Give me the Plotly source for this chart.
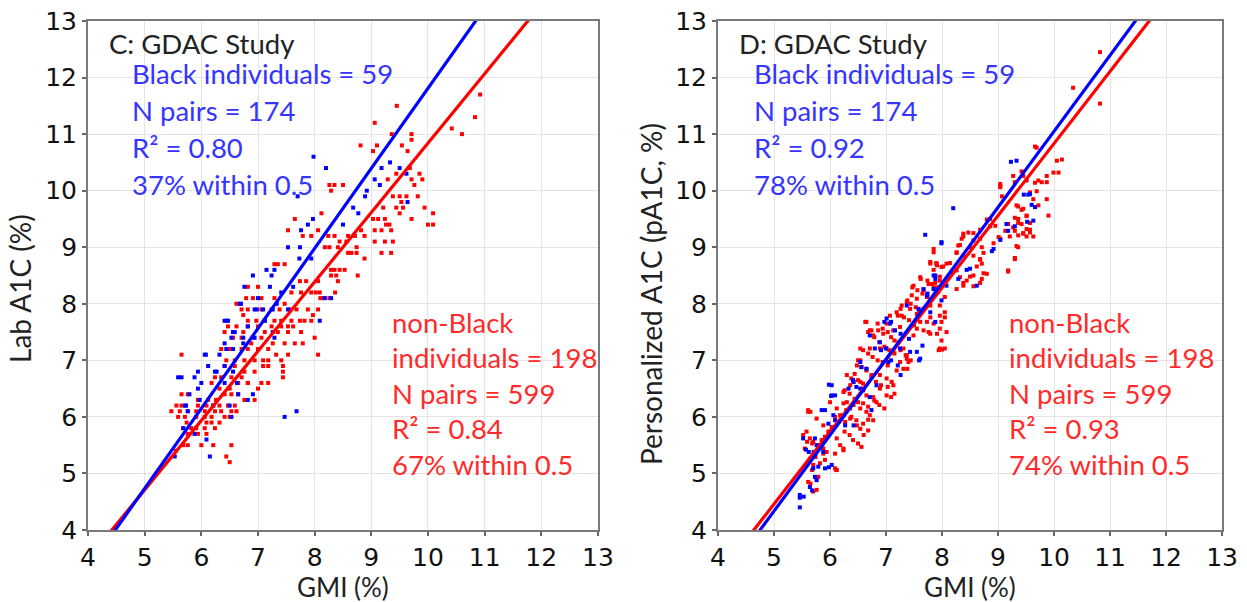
import plotly.graph_objects as go

# ---- Panel C: GMI (%) vs laboratory A1C (%) -------------------------------
c_black = [
    (7.98, 10.6), (8.2, 10.4), (7.7, 9.9), (9.33, 10.5), (9.18, 10.4), (9.5, 10.4),
    (9.62, 10.3), (9.06, 10.2), (9.15, 10.1), (8.92, 10.0), (8.89, 9.9), (9.64, 9.8),
    (8.68, 9.7), (8.77, 9.6), (8.5, 9.4), (7.97, 9.5), (7.88, 9.4), (7.76, 9.3),
    (7.74, 9.0), (7.53, 9.0), (7.94, 8.8), (7.73, 8.8), (7.29, 8.6), (7.15, 8.6),
    (7.24, 8.5), (6.91, 8.5), (6.76, 8.3), (7.21, 8.3), (7.41, 8.2), (7.62, 8.3),
    (8.18, 8.1), (8.29, 8.1), (6.68, 8.0), (7.0, 8.1), (6.94, 7.9), (7.09, 7.9),
    (7.26, 7.9), (7.53, 7.9), (8.09, 7.7), (6.41, 7.7), (6.47, 7.7), (6.82, 7.6),
    (6.59, 7.5), (6.53, 7.4), (6.41, 7.3), (6.74, 7.3), (6.94, 7.4), (7.29, 7.4),
    (6.06, 7.1), (6.32, 7.1), (6.44, 7.2), (6.56, 7.2), (6.12, 6.9), (6.41, 6.9),
    (5.59, 6.7), (5.65, 6.7), (5.94, 6.8), (5.88, 6.7), (6.24, 6.8), (6.56, 6.8),
    (6.0, 6.6), (6.41, 6.6), (6.65, 6.4), (6.82, 6.3), (5.79, 6.4), (5.97, 6.3),
    (5.71, 6.2), (6.21, 6.2), (6.5, 6.2), (5.76, 6.1), (7.47, 6.0), (7.68, 6.1),
    (6.53, 6.0), (5.88, 5.7), (6.09, 5.6), (6.15, 5.3), (5.68, 5.8), (5.53, 5.3),
    (6.7, 8.0), (6.98, 7.9), (7.33, 8.0), (6.45, 7.7), (6.56, 7.5), (6.74, 7.4),
    (7.12, 7.7), (7.26, 7.5), (6.08, 7.1), (6.27, 6.8), (6.63, 6.6), (6.91, 6.4),
    (5.94, 6.5), (5.73, 6.2),
]

c_nonblack = [
    (10.92, 11.7), (10.83, 11.3), (10.42, 11.1), (10.6, 11.0), (9.45, 11.5), (9.06, 11.2),
    (8.81, 10.8), (9.1, 10.8), (9.03, 10.7), (9.36, 11.0), (9.71, 11.0), (9.71, 10.9),
    (9.54, 10.8), (9.64, 10.7), (9.68, 10.4), (9.9, 10.2),
    (8.26, 10.1), (8.35, 10.1), (8.5, 10.1), (8.29, 10.0), (9.29, 10.2), (9.44, 10.3),
    (9.71, 10.2), (9.76, 10.1), (9.85, 10.3), (9.38, 9.9), (9.5, 9.9), (9.53, 9.8),
    (9.62, 9.9), (9.82, 9.9), (9.21, 9.7), (9.44, 9.7), (9.5, 9.6), (9.56, 9.7),
    (9.94, 9.7), (10.09, 9.6), (9.71, 9.5), (10.0, 9.4), (10.09, 9.4), (9.03, 9.5),
    (9.12, 9.5), (9.24, 9.5), (9.26, 9.4), (9.32, 9.4), (9.06, 9.3), (9.18, 9.3),
    (9.35, 9.3), (9.06, 9.1), (9.24, 9.1), (9.38, 9.1), (9.18, 8.9), (9.35, 8.9),
    (8.12, 9.6), (7.65, 9.5), (7.53, 9.3), (7.79, 9.2), (7.94, 9.2), (8.06, 9.3),
    (8.24, 9.2), (8.35, 9.2), (8.59, 9.2), (8.71, 9.2), (8.82, 9.3), (8.88, 9.2),
    (8.44, 9.1), (8.56, 9.1), (8.74, 9.0), (8.18, 9.0), (8.26, 9.0), (8.41, 9.0),
    (8.59, 8.9), (8.65, 8.9), (8.74, 8.9), (8.88, 8.8), (7.29, 8.7), (7.35, 8.7),
    (7.47, 8.7), (8.29, 8.6), (8.35, 8.6), (8.44, 8.6), (8.53, 8.6), (8.29, 8.5),
    (8.38, 8.5), (8.41, 8.4), (8.76, 8.5), (6.82, 8.3), (7.0, 8.3), (7.74, 8.4),
    (7.85, 8.4), (8.06, 8.4), (7.59, 8.2), (7.76, 8.2), (7.94, 8.2), (8.09, 8.2),
    (8.15, 8.1), (8.26, 8.1), (6.79, 8.1), (6.91, 8.1), (7.06, 8.1), (7.29, 8.1),
    (7.47, 8.0), (6.62, 8.0), (6.71, 7.9), (6.82, 7.9), (7.06, 7.9), (7.24, 7.9),
    (7.38, 7.9), (7.56, 7.9), (7.68, 7.9), (7.88, 7.9), (7.97, 7.8), (8.06, 7.9),
    (6.74, 7.8), (6.82, 7.7), (6.97, 7.7), (7.12, 7.7), (7.29, 7.7), (7.41, 7.7),
    (7.59, 7.7), (7.74, 7.7), (7.82, 7.7), (7.94, 7.7), (6.47, 7.6), (6.62, 7.6),
    (6.82, 7.6), (7.0, 7.6), (7.24, 7.6), (7.41, 7.6), (7.53, 7.6), (7.62, 7.6),
    (6.41, 7.5), (6.56, 7.5), (6.74, 7.5), (6.91, 7.4), (7.12, 7.5), (7.35, 7.5),
    (7.53, 7.5), (7.76, 7.5), (8.0, 7.4), (6.56, 7.4), (6.71, 7.4), (6.88, 7.3),
    (7.06, 7.4), (7.26, 7.3), (7.47, 7.3), (7.65, 7.3), (7.79, 7.3), (5.65, 7.1),
    (6.35, 7.2), (6.5, 7.2), (6.71, 7.2), (6.82, 7.2), (7.0, 7.2), (7.18, 7.2),
    (7.32, 7.1), (7.53, 7.1), (8.06, 7.1), (6.44, 7.0), (6.59, 7.0), (6.76, 7.0),
    (6.94, 7.0), (7.09, 7.0), (7.18, 7.0), (7.41, 7.0), (7.44, 6.9), (7.44, 6.7),
    (6.41, 6.9), (6.59, 6.9), (6.76, 6.8), (6.94, 6.8), (7.09, 6.9), (7.18, 6.9),
    (7.44, 6.8), (6.24, 6.7), (6.35, 6.7), (6.53, 6.7), (6.71, 6.7), (6.82, 6.6),
    (7.06, 6.6), (7.18, 6.6), (6.18, 6.6), (6.32, 6.5), (6.5, 6.5), (6.65, 6.6),
    (6.82, 6.6), (7.0, 6.5), (5.65, 6.4), (5.76, 6.4), (5.94, 6.3), (6.12, 6.3),
    (6.26, 6.3), (6.41, 6.4), (6.53, 6.4), (6.65, 6.4), (6.76, 6.3), (6.94, 6.3),
    (5.56, 6.2), (5.65, 6.2), (5.94, 6.2), (6.09, 6.2), (6.21, 6.2), (6.32, 6.2),
    (6.47, 6.2), (6.59, 6.2), (5.47, 6.1), (5.62, 6.1), (5.76, 6.1), (5.91, 6.1),
    (6.06, 6.1), (6.24, 6.1), (6.35, 6.1), (6.53, 6.1), (6.62, 6.1), (5.59, 6.0),
    (5.71, 6.0), (5.91, 6.0), (6.06, 6.0), (6.18, 6.0), (6.41, 6.0), (6.5, 6.0),
    (5.74, 5.9), (5.91, 5.8), (6.09, 5.9), (6.18, 5.9), (6.32, 5.9), (5.68, 5.8),
    (5.82, 5.8), (6.06, 5.8), (6.24, 5.8), (5.76, 5.7), (5.94, 5.7), (6.09, 5.7),
    (5.76, 5.5), (6.0, 5.5), (6.21, 5.5), (6.53, 5.5), (6.44, 5.3), (6.5, 5.2),
    (5.68, 5.5), (5.55, 5.4), (8.02, 8.2), (8.1, 8.1), (8.36, 8.2),
]

# ---- Panel D: GMI (%) vs personalized A1C (%) -----------------------------
d_black = [
    (9.33, 10.53), (8.2, 9.69), (7.7, 9.22), (7.99, 9.09), (9.57, 9.94), (9.66, 9.71),
    (9.63, 9.47), (9.18, 9.29), (9.15, 9.41), (8.92, 8.97), (8.62, 8.32), (8.5, 8.62),
    (8.29, 8.44), (7.85, 8.5), (7.88, 8.44), (8.08, 8.32), (7.67, 8.26), (7.73, 8.15),
    (7.99, 8.06), (7.58, 7.91), (7.79, 7.85), (7.88, 7.68), (7.37, 7.97), (7.01, 7.74),
    (7.07, 7.65), (7.16, 7.53), (7.25, 7.21), (7.43, 7.15), (7.55, 7.15), (7.61, 7.03),
    (6.71, 7.44), (6.89, 7.32), (6.8, 7.21), (7.04, 6.97), (6.54, 6.97), (6.65, 6.85),
    (6.42, 6.62), (6.33, 6.5), (6.54, 6.5), (6.83, 6.56), (6.03, 6.56), (6.03, 6.38),
    (5.85, 6.12), (6.06, 6.03), (6.27, 5.85), (6.42, 5.85), (5.73, 5.62), (5.52, 5.62),
    (5.76, 5.5), (5.88, 5.38), (6.03, 5.15), (5.7, 5.09), (5.73, 4.94), (5.46, 4.62),
    (5.46, 4.57), (5.46, 4.4), (5.64, 4.76), (5.68, 4.7), (5.98, 6.57), (6.02, 6.37),
    (5.57, 5.42), (5.71, 5.36), (5.98, 5.11), (9.52, 9.45), (9.46, 9.93), (9.23, 10.51),
    (6.09, 6.38), (5.91, 6.12), (6.09, 5.94), (5.97, 5.88), (6.56, 6.88), (6.41, 6.65),
    (6.47, 6.53), (6.59, 6.47), (6.71, 6.35), (6.91, 7.18), (7.0, 7.21), (7.09, 7.0),
    (7.21, 6.91), (7.26, 6.74), (6.97, 7.68), (7.09, 7.68), (7.26, 7.47), (7.41, 7.38),
    (7.59, 7.0), (7.65, 7.26), (7.74, 8.18), (7.85, 8.26), (7.88, 8.5), (5.62, 5.38),
    (5.71, 5.38), (5.79, 5.12), (5.76, 4.88), (5.53, 4.59), (5.91, 5.09), (6.74, 6.12),
    (9.54, 9.93), (9.6, 9.75), (9.3, 9.37), (9.04, 9.13), (8.89, 8.93), (7.99, 9.07),
    (8.44, 8.6),
]

d_nonblack = [
    (10.82, 12.45), (10.34, 11.82), (10.82, 11.54), (9.66, 10.78), (10.05, 10.53),
    (10.14, 10.55), (9.99, 10.32), (10.08, 10.32), (9.87, 10.26), (9.72, 10.18),
    (9.78, 10.15), (9.87, 10.15), (9.27, 10.26), (9.3, 10.15), (9.45, 10.26),
    (9.51, 10.18), (9.04, 10.12), (9.04, 10.06), (9.57, 9.97), (9.63, 9.85),
    (9.72, 9.74), (9.87, 9.85), (9.9, 9.56), (9.33, 9.74), (9.45, 9.68), (9.51, 9.56),
    (9.36, 9.5), (9.42, 9.41), (9.51, 9.32), (9.57, 9.26), (9.45, 9.24), (9.18, 9.41),
    (9.27, 9.35), (9.13, 9.29), (9.3, 9.29), (9.36, 9.21), (8.86, 9.5), (8.95, 9.38),
    (9.01, 9.18), (9.04, 9.15), (9.36, 9.0), (9.3, 8.79), (9.18, 8.59), (8.56, 9.12),
    (8.5, 9.0), (8.35, 9.15), (8.29, 9.03), (8.38, 9.24), (8.47, 9.26), (8.68, 9.15),
    (8.71, 9.0), (8.26, 8.91), (8.38, 8.85), (8.56, 8.85), (8.68, 8.79), (8.71, 8.71),
    (8.8, 8.53), (8.71, 8.44), (8.56, 8.5), (8.44, 8.41), (7.85, 8.97), (7.9, 8.71),
    (7.79, 8.74), (7.99, 8.65), (8.08, 8.71), (8.17, 8.56), (8.26, 8.59), (8.32, 8.47),
    (8.38, 8.32), (8.26, 8.26), (7.61, 8.47), (7.49, 8.32), (7.46, 8.15), (7.55, 8.09),
    (7.67, 8.24), (7.76, 8.35), (7.85, 8.29), (7.96, 8.41), (7.93, 8.21), (8.05, 8.12),
    (7.73, 8.12), (7.79, 7.97), (7.67, 7.91), (7.96, 7.97), (8.05, 7.85), (7.28, 7.97),
    (7.37, 8.03), (7.19, 7.85), (7.28, 7.79), (7.43, 7.91), (7.55, 7.82), (7.61, 7.68),
    (7.96, 7.79), (8.05, 7.76), (7.99, 7.68), (7.96, 7.56), (8.08, 7.5), (7.99, 7.35),
    (8.05, 7.21), (7.96, 7.21), (7.73, 7.68), (7.79, 7.47), (7.55, 7.56), (7.49, 7.44),
    (7.67, 7.53), (6.63, 7.68), (6.71, 7.53), (6.77, 7.44), (6.86, 7.53), (6.95, 7.47),
    (7.07, 7.79), (7.01, 7.65), (7.13, 7.53), (7.25, 7.59), (7.22, 7.32), (7.31, 7.21),
    (7.37, 7.09), (7.4, 6.97), (6.54, 7.21), (6.71, 7.21), (6.89, 7.21), (7.01, 7.21),
    (7.13, 7.15), (7.25, 6.97), (7.37, 7.03), (7.19, 6.82), (7.31, 6.85), (6.54, 7.0),
    (6.48, 6.91), (6.65, 6.85), (6.74, 6.74), (6.89, 6.74), (7.01, 6.68), (7.1, 6.62),
    (7.13, 6.56), (6.89, 6.5), (7.01, 6.38), (6.3, 6.74), (6.36, 6.56), (6.42, 6.62),
    (6.54, 6.62), (6.6, 6.5), (6.65, 6.38), (6.77, 6.35), (6.83, 6.26), (6.24, 6.44),
    (6.3, 6.26), (6.36, 6.15), (6.42, 6.21), (6.54, 6.15), (6.65, 6.09), (6.71, 6.03),
    (6.77, 5.94), (6.0, 6.26), (6.12, 6.15), (6.18, 6.03), (6.27, 5.91), (6.36, 5.97),
    (6.48, 5.85), (6.54, 5.79), (6.6, 5.68), (5.61, 6.12), (5.76, 5.97), (5.88, 5.85),
    (6.0, 5.74), (6.12, 5.62), (6.18, 5.5), (6.24, 5.44), (5.58, 5.74), (5.64, 5.62),
    (5.7, 5.56), (5.79, 5.5), (5.88, 5.44), (5.94, 5.38), (6.09, 5.09), (5.52, 5.68),
    (5.55, 5.44), (5.64, 5.26), (5.7, 5.15), (5.76, 4.91), (5.61, 4.85), (5.7, 4.68),
    (5.61, 6.09), (6.11, 5.06), (8.0, 7.19), (6.68, 5.95),
    (7.85, 8.91), (7.79, 8.71), (7.91, 8.68), (7.62, 8.44), (7.74, 8.41), (7.82, 8.35),
    (7.91, 8.29), (7.47, 8.29), (7.56, 8.24), (7.65, 8.18), (7.74, 8.12), (7.38, 8.06),
    (7.44, 8.0), (7.53, 7.94), (7.59, 7.88), (7.68, 7.91), (7.26, 7.91), (7.21, 7.79),
    (7.32, 7.76), (7.41, 7.71), (7.5, 7.62), (7.79, 7.76), (7.85, 7.65), (7.76, 7.5),
    (7.91, 7.47), (7.94, 7.18), (6.65, 7.68), (6.74, 7.53), (6.68, 7.5), (6.85, 7.65),
    (6.94, 7.56), (7.03, 7.5), (7.09, 7.41), (7.15, 7.35), (6.79, 7.41), (6.88, 7.32),
    (6.97, 7.24), (7.06, 7.18), (7.15, 7.12), (6.59, 7.18), (6.68, 7.12), (6.76, 7.06),
    (6.85, 7.0), (6.94, 6.97), (7.03, 6.91), (7.26, 7.18), (7.35, 7.09), (7.44, 7.0),
    (7.38, 6.85), (6.5, 7.0), (6.56, 6.88), (6.65, 6.82), (6.44, 6.76), (6.38, 6.68),
    (6.5, 6.65), (6.59, 6.59), (6.74, 6.71), (6.82, 6.62), (6.91, 6.56), (7.03, 6.53),
    (7.09, 6.35), (7.15, 6.41), (6.26, 6.47), (6.35, 6.41), (6.44, 6.32), (6.5, 6.26),
    (6.59, 6.24), (6.68, 6.18), (6.24, 6.24), (6.29, 6.12), (6.38, 6.0), (6.47, 5.94),
    (6.59, 5.88), (6.68, 5.76), (6.79, 6.29), (6.88, 6.21), (6.97, 6.15), (6.09, 6.0),
    (6.15, 5.91), (6.03, 5.82), (5.97, 5.74), (5.91, 5.65), (5.85, 5.59), (6.26, 5.74),
    (6.35, 5.68), (6.41, 5.59), (6.5, 5.53), (6.56, 5.47), (6.24, 5.41), (6.09, 5.35),
    (5.65, 6.09), (5.59, 5.56), (5.68, 5.53), (5.79, 5.47), (5.88, 5.35), (5.74, 5.29),
    (5.82, 5.18), (5.91, 5.24), (5.68, 5.06), (5.79, 4.94), (5.65, 4.82), (5.76, 4.71),
    (6.12, 5.06), (9.69, 10.76), (9.66, 10.14), (9.69, 9.99), (9.42, 10.34), (9.04, 10.08),
    (9.07, 9.9), (9.36, 9.72), (9.42, 9.66), (9.51, 9.55), (9.57, 9.43), (9.3, 9.52),
    (9.36, 9.43), (9.45, 9.25), (9.51, 9.19), (9.57, 9.31), (9.63, 9.19), (9.21, 9.19),
    (9.33, 9.02), (9.3, 8.81), (9.18, 8.57), (8.8, 9.49), (8.86, 9.37), (8.68, 9.31),
    (8.56, 9.25), (8.38, 9.19), (8.32, 9.04), (8.26, 8.9), (8.14, 8.72), (8.02, 8.66),
    (8.92, 9.07), (8.74, 8.9), (8.68, 8.78), (8.62, 8.66), (8.5, 8.48), (8.38, 8.37),
    (8.74, 8.54), (8.68, 8.37), (8.56, 8.31), (7.9, 8.72), (7.85, 8.6), (7.96, 8.48),
    (7.88, 8.37),
]

# least-squares fit lines: (intercept, slope) of A1C on GMI
c_fit_black = (-2.34, 1.415)
c_fit_nonblack = (-1.42, 1.226)
d_fit_black = (-2.38, 1.343)
d_fit_nonblack = (-1.916, 1.275)
gmi_span = [4.0, 13.0]

axis_ticks = [4, 5, 6, 7, 8, 9, 10, 11, 12, 13]

c_title = "C: GDAC Study"
d_title = "D: GDAC Study"
c_black_stats = ["Black individuals = 59", "N pairs = 174", "R² = 0.80", "37% within 0.5"]
c_nonblack_stats = ["non-Black", "individuals = 198", "N pairs = 599", "R² = 0.84", "67% within 0.5"]
d_black_stats = ["Black individuals = 59", "N pairs = 174", "R² = 0.92", "78% within 0.5"]
d_nonblack_stats = ["non-Black", "individuals = 198", "N pairs = 599", "R² = 0.93", "74% within 0.5"]

RED = "#ff0000"
BLUE = "#0000ff"
RED_TXT = "#ff2b2b"
BLUE_TXT = "#3535ff"
TEXT_FONT = "Lato"

fig = go.Figure()


def add_panel(black, nonblack, fit_black, fit_nonblack, xa, ya):
    fig.add_trace(go.Scatter(
        x=[p[0] for p in nonblack], y=[p[1] for p in nonblack], mode="markers",
        marker=dict(symbol="square", size=4, color=RED, line=dict(width=0)),
        xaxis=xa, yaxis=ya, showlegend=False, hoverinfo="skip"))
    fig.add_trace(go.Scatter(
        x=[p[0] for p in black], y=[p[1] for p in black], mode="markers",
        marker=dict(symbol="square", size=4, color=BLUE, line=dict(width=0)),
        xaxis=xa, yaxis=ya, showlegend=False, hoverinfo="skip"))
    for (a, b), col in ((fit_nonblack, RED), (fit_black, BLUE)):
        fig.add_trace(go.Scatter(
            x=gmi_span, y=[a + b * g for g in gmi_span], mode="lines",
            line=dict(color=col, width=3.2), xaxis=xa, yaxis=ya,
            showlegend=False, hoverinfo="skip"))


add_panel(c_black, c_nonblack, c_fit_black, c_fit_nonblack, "x", "y")
add_panel(d_black, d_nonblack, d_fit_black, d_fit_nonblack, "x2", "y2")

axis_style = dict(
    range=[4, 13], tickvals=axis_ticks, ticks="outside", ticklen=4, tickwidth=1.5,
    tickcolor="#666666", showgrid=True, gridcolor="#e4e4e4", gridwidth=1,
    showline=True, linecolor="#7a7a7a", linewidth=2, mirror=True, zeroline=False,
    automargin=False, ticklabelstandoff=0,
    tickfont=dict(family="DejaVu Sans", size=25, color="#111111"),
)

y_dom = [0.1196, 0.9651]
fig.update_layout(
    width=1247, height=602, margin=dict(l=0, r=0, t=0, b=0, autoexpand=False),
    paper_bgcolor="white", plot_bgcolor="white",
    xaxis=dict(domain=[0.0706, 0.4795], anchor="y", **axis_style),
    yaxis=dict(domain=y_dom, anchor="x", **axis_style),
    xaxis2=dict(domain=[0.5758, 0.98], anchor="y2", **axis_style),
    yaxis2=dict(domain=y_dom, anchor="x2", **axis_style),
)

ann = []


def text(x, y, s, color, xref, yref, size=27.5, **kw):
    ann.append(dict(x=x, y=y, text=s, xref=xref, yref=yref, showarrow=False,
                    xanchor=kw.pop("xanchor", "left"), yanchor="middle",
                    font=dict(family=TEXT_FONT, size=size, color=color), **kw))


for xr, yr, title, bstats, nstats, bx, nx in (
        ("x", "y", c_title, c_black_stats, c_nonblack_stats, 4.74, 9.33),
        ("x2", "y2", d_title, d_black_stats, d_nonblack_stats, 4.61, 9.16)):
    text(4.33, 12.6, title, "#222222", xr, yr)
    for i, s in enumerate(bstats):
        text(bx, 12.08 - 0.655 * i, s, BLUE_TXT, xr, yr)
    for i, s in enumerate(nstats):
        text(nx, 7.67 - 0.628 * i, s, RED_TXT, xr, yr)

# axis titles
text(343 / 1247, 1 - 587 / 602, "GMI (%)", "#222222", "paper", "paper", size=26,
     xanchor="center", borderpad=0)
text(970 / 1247, 1 - 587 / 602, "GMI (%)", "#222222", "paper", "paper", size=26,
     xanchor="center", borderpad=0)
text(20 / 1247, 1 - 289 / 602, "Lab A1C (%)", "#222222", "paper", "paper", size=28,
     xanchor="center", textangle=-90)
text(651 / 1247, 1 - 294 / 602, "Personalized A1C (pA1C, %)", "#222222", "paper", "paper",
     size=28, xanchor="center", textangle=-90)

fig.update_layout(annotations=ann)
fig.write_html("out.html")
